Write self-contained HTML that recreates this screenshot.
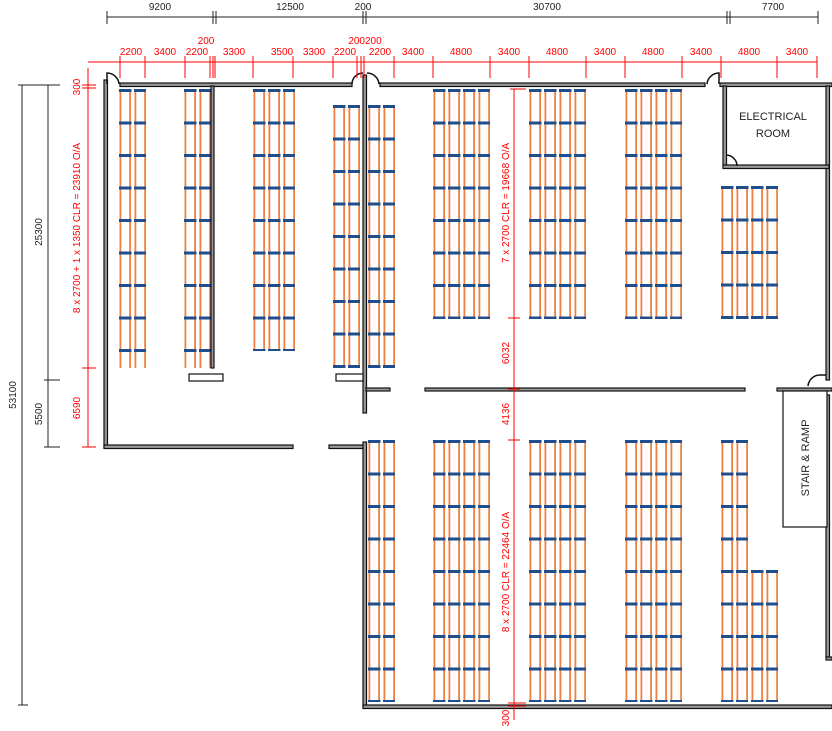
<!DOCTYPE html>
<html><head><meta charset="utf-8"><style>
html,body{margin:0;padding:0;background:#fff}
svg{display:block}
text{font-family:"Liberation Sans",sans-serif;font-size:10px}
.k{fill:#222}.r{fill:#f00}
</style></head><body>
<svg width="832" height="731" viewBox="0 0 832 731" xmlns="http://www.w3.org/2000/svg">
<defs>
<pattern id="rk" patternUnits="userSpaceOnUse" x="0" y="0" width="15" height="32.5">
<rect x="0.5" y="0" width="1.8" height="32.5" fill="#f08040"/>
<rect x="10.2" y="0" width="1.8" height="32.5" fill="#f08040"/>
<rect x="0" y="0" width="12.5" height="3" fill="#1f4e8c"/>
</pattern>
<pattern id="bb" patternUnits="userSpaceOnUse" x="0" y="0" width="15" height="10">
<rect x="0" y="0" width="12.5" height="3" fill="#1f4e8c"/>
</pattern>
</defs>

<!-- racks -->
<g transform="translate(119,89)"><rect width="27" height="279" fill="url(#rk)"/><rect y="276" width="27" height="3" fill="url(#bb)"/></g>
<g transform="translate(184,89)"><rect width="27" height="279" fill="url(#rk)"/><rect y="276" width="27" height="3" fill="url(#bb)"/></g>
<g transform="translate(253,89)"><rect width="42" height="262" fill="url(#rk)"/><rect y="259" width="42" height="3" fill="url(#bb)"/></g>
<g transform="translate(333,105)"><rect width="27" height="263" fill="url(#rk)"/><rect y="260" width="27" height="3" fill="url(#bb)"/></g>
<g transform="translate(368,105)"><rect width="27" height="263" fill="url(#rk)"/><rect y="260" width="27" height="3" fill="url(#bb)"/></g>
<g transform="translate(433,89)"><rect width="57" height="230" fill="url(#rk)"/><rect y="227" width="57" height="3" fill="url(#bb)"/></g>
<g transform="translate(529,89)"><rect width="57" height="230" fill="url(#rk)"/><rect y="227" width="57" height="3" fill="url(#bb)"/></g>
<g transform="translate(625,89)"><rect width="57" height="230" fill="url(#rk)"/><rect y="227" width="57" height="3" fill="url(#bb)"/></g>
<g transform="translate(721,186)"><rect width="57" height="133" fill="url(#rk)"/><rect y="130" width="57" height="3" fill="url(#bb)"/></g>
<g transform="translate(368,440)"><rect width="27" height="262" fill="url(#rk)"/><rect y="259" width="27" height="3" fill="url(#bb)"/></g>
<g transform="translate(433,440)"><rect width="57" height="262" fill="url(#rk)"/><rect y="259" width="57" height="3" fill="url(#bb)"/></g>
<g transform="translate(529,440)"><rect width="57" height="262" fill="url(#rk)"/><rect y="259" width="57" height="3" fill="url(#bb)"/></g>
<g transform="translate(625,440)"><rect width="57" height="262" fill="url(#rk)"/><rect y="259" width="57" height="3" fill="url(#bb)"/></g>
<g transform="translate(721,440)"><rect width="27" height="262" fill="url(#rk)"/><rect y="259" width="27" height="3" fill="url(#bb)"/></g>
<g transform="translate(751,570)"><rect width="27" height="132" fill="url(#rk)"/><rect y="129" width="27" height="3" fill="url(#bb)"/></g>

<!-- walls -->
<g fill="#999" stroke="#111" stroke-width="1.2">
<rect x="120" y="83" width="232" height="3.5"/>
<rect x="380" y="83" width="325" height="3.5"/>
<rect x="720" y="83" width="112" height="3.5"/>
<rect x="104" y="80" width="3.5" height="368"/>
<rect x="104" y="445" width="189" height="3.5"/>
<rect x="329" y="445" width="37" height="3.5"/>
<rect x="363" y="75" width="3.5" height="338"/>
<rect x="363" y="442" width="3.5" height="266"/>
<rect x="363" y="705" width="469" height="3.5"/>
<rect x="366" y="388" width="24" height="3"/>
<rect x="425" y="388" width="320" height="3"/>
<rect x="777" y="388" width="55" height="3"/>
<rect x="826" y="86" width="3.5" height="294"/>
<rect x="826" y="395" width="3.5" height="262"/>
<rect x="826" y="657" width="6" height="3"/>
<rect x="211" y="86" width="3" height="282"/>
<rect x="723" y="86" width="3.5" height="80"/>
<rect x="723" y="165" width="106" height="3.5"/>
</g>
<g fill="#fff" stroke="#111" stroke-width="1.2">
<rect x="189" y="374" width="34" height="7"/>
<rect x="336" y="374" width="27" height="7"/>
<rect x="783" y="391" width="44" height="136"/>
</g>
<g fill="none" stroke="#111" stroke-width="1.5">
<path d="M107 84 V73 A12 12 0 0 1 119 84"/>
<path d="M352 84 A11 11 0 0 1 363 73"/>
<path d="M367 73 A12 12 0 0 1 379 84"/>
<path d="M707 84 A12 12 0 0 1 719 73 V84"/>
<path d="M726 155 A11 11 0 0 1 737 166"/>
<path d="M808 386 A12 12 0 0 1 820 375 H826"/>
</g>
<text x="773" y="120" text-anchor="middle" class="k" style="font-size:11px">ELECTRICAL</text>
<text x="773" y="137" text-anchor="middle" class="k" style="font-size:11px">ROOM</text>
<text transform="translate(809,458) rotate(-90)" text-anchor="middle" class="k" style="font-size:11px">STAIR &amp; RAMP</text>

<!-- black dims -->
<g stroke="#222" stroke-width="1" fill="none">
<line x1="107" y1="17" x2="818" y2="17"/>
<line x1="107" y1="11" x2="107" y2="24"/>
<line x1="213" y1="11" x2="213" y2="24"/><line x1="216" y1="11" x2="216" y2="24"/>
<line x1="363" y1="11" x2="363" y2="24"/><line x1="366" y1="11" x2="366" y2="24"/>
<line x1="727" y1="11" x2="727" y2="24"/><line x1="730" y1="11" x2="730" y2="24"/>
<line x1="818" y1="11" x2="818" y2="24"/>
<line x1="22" y1="85" x2="22" y2="705"/>
<line x1="48" y1="85" x2="48" y2="447"/>
<line x1="18" y1="85" x2="60" y2="85"/>
<line x1="44" y1="380" x2="60" y2="380"/>
<line x1="44" y1="447" x2="60" y2="447"/>
<line x1="18" y1="705" x2="28" y2="705"/>
</g>
<text x="160" y="10" text-anchor="middle" class="k">9200</text>
<text x="290" y="10" text-anchor="middle" class="k">12500</text>
<text x="363" y="10" text-anchor="middle" class="k">200</text>
<text x="547" y="10" text-anchor="middle" class="k">30700</text>
<text x="773" y="10" text-anchor="middle" class="k">7700</text>
<text transform="translate(16,395) rotate(-90)" text-anchor="middle" class="k">53100</text>
<text transform="translate(42,232) rotate(-90)" text-anchor="middle" class="k">25300</text>
<text transform="translate(42,414) rotate(-90)" text-anchor="middle" class="k">5500</text>

<!-- red dims -->
<g stroke="#f00" stroke-width="1" fill="none">
<line x1="88" y1="62" x2="817" y2="62"/>
<path d="M120 56V78 M145 56V78 M185 56V78 M210 56V78 M213 56V78 M215 56V78 M253 56V78 M293 56V78 M333 56V78 M357 56V78 M361 56V78 M364 56V78 M394 56V78 M433 56V78 M490 56V78 M529 56V78 M586 56V78 M625 56V78 M682 56V78 M721 56V78 M777 56V78 M817 56V78"/>
<line x1="88" y1="68" x2="88" y2="447"/>
<path d="M82 85H96 M82 88H96 M82 368H96 M82 447H96"/>
<line x1="514" y1="89" x2="514" y2="720"/>
<path d="M510 89H526 M508 318H520 M508 389H520 M508 440H520 M508 703H526 M508 706H526"/>
</g>
<g class="r">
<text x="131" y="55" text-anchor="middle">2200</text>
<text x="165" y="55" text-anchor="middle">3400</text>
<text x="197" y="55" text-anchor="middle">2200</text>
<text x="206" y="44" text-anchor="middle">200</text>
<text x="234" y="55" text-anchor="middle">3300</text>
<text x="282" y="55" text-anchor="middle">3500</text>
<text x="314" y="55" text-anchor="middle">3300</text>
<text x="345" y="55" text-anchor="middle">2200</text>
<text x="365" y="44" text-anchor="middle">200200</text>
<text x="380" y="55" text-anchor="middle">2200</text>
<text x="413" y="55" text-anchor="middle">3400</text>
<text x="461" y="55" text-anchor="middle">4800</text>
<text x="509" y="55" text-anchor="middle">3400</text>
<text x="557" y="55" text-anchor="middle">4800</text>
<text x="605" y="55" text-anchor="middle">3400</text>
<text x="653" y="55" text-anchor="middle">4800</text>
<text x="701" y="55" text-anchor="middle">3400</text>
<text x="749" y="55" text-anchor="middle">4800</text>
<text x="797" y="55" text-anchor="middle">3400</text>
<text transform="translate(80,87) rotate(-90)" text-anchor="middle">300</text>
<text transform="translate(80,228) rotate(-90)" text-anchor="middle">8 x 2700 + 1 x 1350 CLR = 23910 O/A</text>
<text transform="translate(80,408) rotate(-90)" text-anchor="middle">6590</text>
<text transform="translate(509,203) rotate(-90)" text-anchor="middle">7 x 2700 CLR = 19668 O/A</text>
<text transform="translate(509,353) rotate(-90)" text-anchor="middle">6032</text>
<text transform="translate(509,414) rotate(-90)" text-anchor="middle">4136</text>
<text transform="translate(509,572) rotate(-90)" text-anchor="middle">8 x 2700 CLR = 22464 O/A</text>
<text transform="translate(509,718) rotate(-90)" text-anchor="middle">300</text>
</g>
</svg>
</body></html>
